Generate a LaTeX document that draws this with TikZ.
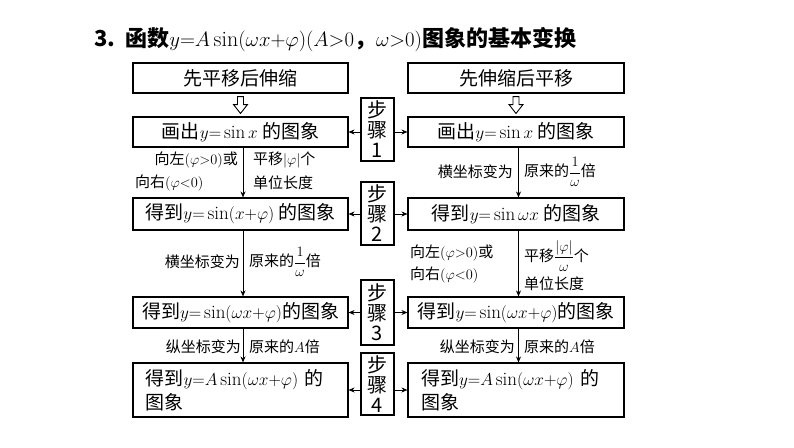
\documentclass[tikz,border=0pt]{standalone}
\usepackage{amsmath}
\usepackage{fontspec}
\newfontfamily\cjk{Noto Sans CJK SC}
\usetikzlibrary{arrows.meta,calc}
\begin{document}
\begin{tikzpicture}[x=1pt,y=-1pt,
  box/.style={draw,line width=1.1pt,inner sep=0pt,font=\cjk\fontsize{19}{24}\selectfont},
  stepbox/.style={draw,line width=1.1pt,inner sep=0pt,minimum width=33pt,align=center,font=\cjk\fontsize{20}{20}\selectfont},
  arr/.style={-{Stealth[length=6pt,width=5pt]},line width=0.8pt},
  lab/.style={font=\cjk\fontsize{15}{20}\selectfont,inner sep=0pt}]
\useasboundingbox (0,0) rectangle (794,447);
\node[anchor=west,font=\cjk\bfseries\fontsize{22}{26}\selectfont,inner sep=0pt] (title) at (94,40)
 {3.\ \ 函数$y{=}A\sin(\omega x{+}\varphi)(A{>}0$，$\omega{>}0)$图象的基本变换};
% top boxes
\node[box,minimum width=215pt,minimum height=30pt] (lt) at (240.5,78) {先平移后伸缩};
\node[box,minimum width=216pt,minimum height=30pt] (rt) at (516,78) {先伸缩后平移};
\node[box,minimum width=215pt,minimum height=30pt] (l1) at (240.5,132) {画出$y{=}\sin x$ 的图象};
\node[box,minimum width=216pt,minimum height=30pt] (r1) at (516,132) {画出$y{=}\sin x$ 的图象};
\node[box,minimum width=215pt,minimum height=32pt] (l2) at (240.5,214) {得到$y{=}\sin(x{+}\varphi)$ 的图象};
\node[box,minimum width=216pt,minimum height=32pt] (r2) at (516,214) {得到$y{=}\sin \omega x$ 的图象};
\node[box,minimum width=215pt,minimum height=31pt] (l3) at (240.5,312.5) {得到$y{=}\sin(\omega x{+}\varphi)$的图象};
\node[box,minimum width=216pt,minimum height=31pt] (r3) at (516,312.5) {得到$y{=}\sin(\omega x{+}\varphi)$的图象};
\node[box,minimum width=215pt,minimum height=54pt,align=left,text width=190pt] (l4) at (240.5,390) {得到$y{=}A\sin(\omega x{+}\varphi)$ 的\\图象};
\node[box,minimum width=216pt,minimum height=54pt,align=left,text width=190pt] (r4) at (516,390) {得到$y{=}A\sin(\omega x{+}\varphi)$ 的\\图象};
% steps
\node[stepbox,minimum height=63pt] (s1) at (377.5,129.5) {步\\骤\\1};
\node[stepbox,minimum height=63pt] (s2) at (377.5,213.5) {步\\骤\\2};
\node[stepbox,minimum height=65pt] (s3) at (377.5,312.5) {步\\骤\\3};
\node[stepbox,minimum height=62pt] (s4) at (377.5,384) {步\\骤\\4};
\foreach \s/\l/\r in {s1/l1/r1,s2/l2/r2,s3/l3/r3,s4/l4/r4}{
  \draw[arr] (\s.west |- \l.east) -- (\l.east);
  \draw[arr] (\s.east |- \r.west) -- (\r.west);
}
% hollow arrows
\foreach \t/\b in {lt/l1,rt/r1}{
  \draw[line width=0.9pt,fill=white] ($(\t.south)+(-3,3)$) -- ++(6,0) -- ++(0,8) -- ++(4,0) -- ($(\b.north)+(0,-3)$) -- ($(\t.south)+(-7,11)$) -- ++(4,0) -- cycle;
}
% vertical arrows
\foreach \a/\b in {l1/l2,l2/l3,l3/l4,r1/r2,r2/r3,r3/r4}{
  \draw[arr] ($(\a.south)+(2.5,0)$) -- ($(\b.north)+(2.5,0)$);
}
% labels
\node[lab,anchor=east] (a1) at (238,160) {向左$(\varphi{>}0)$或};
\node[lab,anchor=west] (a2) at (135,183) {向右$(\varphi{<}0)$};
\node[lab,anchor=west] (a3) at (253,160) {平移$|\varphi|$个};
\node[lab,anchor=west] (a4) at (253,183) {单位长度};
\node[lab,anchor=east] (b1) at (513,172) {横坐标变为};
\node[lab,anchor=west] (b2) at (524,172) {原来的$\dfrac{1}{\omega}$倍};
\node[lab,anchor=east] (c1) at (240,262) {横坐标变为};
\node[lab,anchor=west] (c2) at (249,262) {原来的$\dfrac{1}{\omega}$倍};
\node[lab,anchor=west] (d1) at (410,253) {向左$(\varphi{>}0)$或};
\node[lab,anchor=west] (d2) at (410,275) {向右$(\varphi{<}0)$};
\node[lab,anchor=west] (d3) at (524,256) {平移$\dfrac{|\varphi|}{\omega}$个};
\node[lab,anchor=west] (d4) at (524,284) {单位长度};
\node[lab,anchor=east] (e1) at (241,347) {纵坐标变为};
\node[lab,anchor=west] (e2) at (249,347) {原来的$A$倍};
\node[lab,anchor=east] (f1) at (515,347) {纵坐标变为};
\node[lab,anchor=west] (f2) at (524,347) {原来的$A$倍};
\end{tikzpicture}
\end{document}
